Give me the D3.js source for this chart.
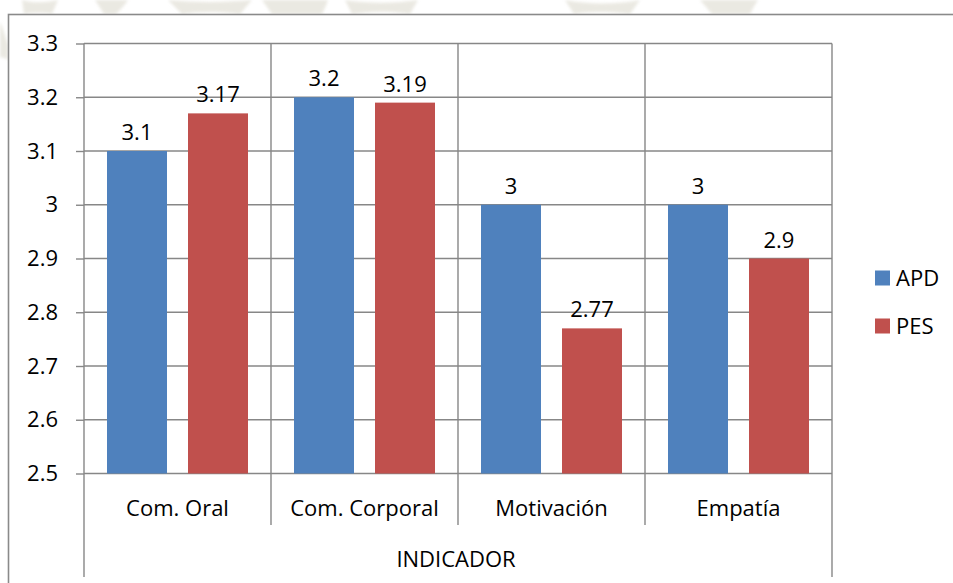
<!DOCTYPE html>
<html>
<head>
<meta charset="utf-8">
<script src="https://cdn.jsdelivr.net/npm/d3@7"></script>
<style>
  html, body { margin: 0; padding: 0; background: #ffffff; }
  svg { display: block; }
  text { font-family: "Open Sans", Lato, sans-serif; fill: #000; }
</style>
</head>
<body>
<svg id="chart" width="953" height="583"></svg>
<script>
// Indicator means per group
const categories = ["Com. Oral", "Com. Corporal", "Motivación", "Empatía"];
const seriesNames = ["APD", "PES"];
const apdValues = [3.1, 3.2, 3.0, 3.0];
const pesValues = [3.17, 3.19, 2.77, 2.9];
const valueLabels = [["3.1", "3.17"], ["3.2", "3.19"], ["3", "2.77"], ["3", "2.9"]];
const yTicks = [2.5, 2.6, 2.7, 2.8, 2.9, 3.0, 3.1, 3.2, 3.3];
const yTickLabels = ["2.5", "2.6", "2.7", "2.8", "2.9", "3", "3.1", "3.2", "3.3"];
const axisTitle = "INDICADOR";
const colors = { APD: "#4F81BD", PES: "#C0504D" };

const svg = d3.select("#chart");
const gridColor = "#878787";
const fontSize = 22;
const fontFamily = "'Open Sans', Lato, sans-serif";

// faint background seal showing around the chart frame
const defs = svg.append("defs");
defs.append("filter").attr("id", "soft")
  .append("feGaussianBlur").attr("stdDeviation", 1.5);
const wm = svg.append("g").attr("fill", "#e2e0d6").attr("opacity", 0.7).attr("filter", "url(#soft)");
[
  "M22,0 C35,4 50,2 58,0 L52,14 C44,12 30,13 24,14 Z",
  "M95,0 L128,0 C124,6 120,10 116,14 L104,14 Z",
  "M168,0 C200,3 230,2 252,0 L240,14 C215,11 195,12 182,14 Z",
  "M262,0 L328,0 C326,6 324,10 322,14 L272,14 Z",
  "M345,0 C370,4 398,3 418,0 L410,14 C385,10 365,12 352,14 Z",
  "M565,0 C590,5 620,4 640,0 L630,14 C605,11 585,12 574,14 Z",
  "M700,0 L758,0 C754,6 752,10 750,14 L712,14 Z",
  "M0,22 C4,30 6,40 8,44 L8,60 C5,58 2,56 0,58 Z"
].forEach(p => wm.append("path").attr("d", p));

// chart frame
svg.append("rect")
  .attr("x", 8.5).attr("y", 14.5)
  .attr("width", 980).attr("height", 620)
  .attr("fill", "#ffffff")
  .attr("stroke", "#8a8a8a").attr("stroke-width", 1.6);

const plot = { left: 84, right: 832, top: 43.5, bottom: 473.5 };

const x = d3.scaleBand().domain(categories).range([plot.left, plot.right]).padding(0);
const x1 = d3.scaleBand().domain(seriesNames).range([0, x.bandwidth()])
  .paddingInner(21 / 81).paddingOuter(0.284);
const y = d3.scaleLinear().domain([2.5, 3.3]).range([plot.bottom, plot.top]);

// horizontal gridlines
svg.append("g").selectAll("line").data(yTicks).join("line")
  .attr("x1", plot.left).attr("x2", plot.right)
  .attr("y1", d => y(d)).attr("y2", d => y(d))
  .attr("stroke", gridColor).attr("stroke-width", 1.4);

// y axis ticks and labels
const yAxis = d3.axisLeft(y).tickValues(yTicks).tickSize(8).tickPadding(18)
  .tickFormat((d, i) => yTickLabels[i]);
const gy = svg.append("g").attr("transform", `translate(${plot.left},0)`).call(yAxis);
gy.select(".domain").remove();
gy.selectAll(".tick line").attr("stroke", gridColor).attr("stroke-width", 1.4);
gy.selectAll(".tick text").attr("font-size", fontSize).attr("font-family", fontFamily)
  .attr("fill", "#000");

// category boundaries (vertical gridlines extending into the label table)
const bounds = categories.map(c => x(c)).concat([plot.right]);
svg.append("g").selectAll("line").data(bounds).join("line")
  .attr("x1", d => d).attr("x2", d => d)
  .attr("y1", plot.top)
  .attr("y2", (d, i) => (i === 0 || i === bounds.length - 1) ? 577 : 525)
  .attr("stroke", gridColor).attr("stroke-width", 1.4);

// bars
const rows = categories.map((c, i) => ({ cat: c, vals: [apdValues[i], pesValues[i]], labels: valueLabels[i] }));
const groups = svg.append("g").selectAll("g").data(rows).join("g")
  .attr("transform", d => `translate(${x(d.cat)},0)`);

groups.selectAll("rect").data(d => seriesNames.map((s, j) => ({ s, v: d.vals[j] }))).join("rect")
  .attr("x", d => x1(d.s)).attr("width", x1.bandwidth())
  .attr("y", d => y(d.v)).attr("height", d => y(2.5) - y(d.v))
  .attr("fill", d => colors[d.s]);

groups.selectAll("text").data(d => seriesNames.map((s, j) => ({ s, v: d.vals[j], t: d.labels[j] }))).join("text")
  .attr("x", d => x1(d.s) + x1.bandwidth() / 2)
  .attr("y", d => y(d.v) - 11)
  .attr("text-anchor", "middle")
  .attr("font-size", fontSize)
  .text(d => d.t);

// category axis labels
svg.append("g").selectAll("text").data(categories).join("text")
  .attr("x", d => x(d) + x.bandwidth() / 2)
  .attr("y", 508)
  .attr("dy", "0.35em")
  .attr("text-anchor", "middle")
  .attr("font-size", fontSize)
  .text(d => d);

svg.append("text")
  .attr("x", (plot.left + plot.right) / 2 - 2)
  .attr("y", 559).attr("dy", "0.35em")
  .attr("text-anchor", "middle")
  .attr("font-size", fontSize)
  .text(axisTitle);

// legend
const legend = svg.append("g").selectAll("g").data(seriesNames).join("g")
  .attr("transform", (d, i) => `translate(875,${278 + i * 48})`);
legend.append("rect").attr("x", 0).attr("y", -7.5).attr("width", 15).attr("height", 15)
  .attr("fill", d => colors[d]);
legend.append("text").attr("x", 21).attr("dy", "0.35em")
  .attr("font-size", fontSize).text(d => d);
</script>
</body>
</html>
